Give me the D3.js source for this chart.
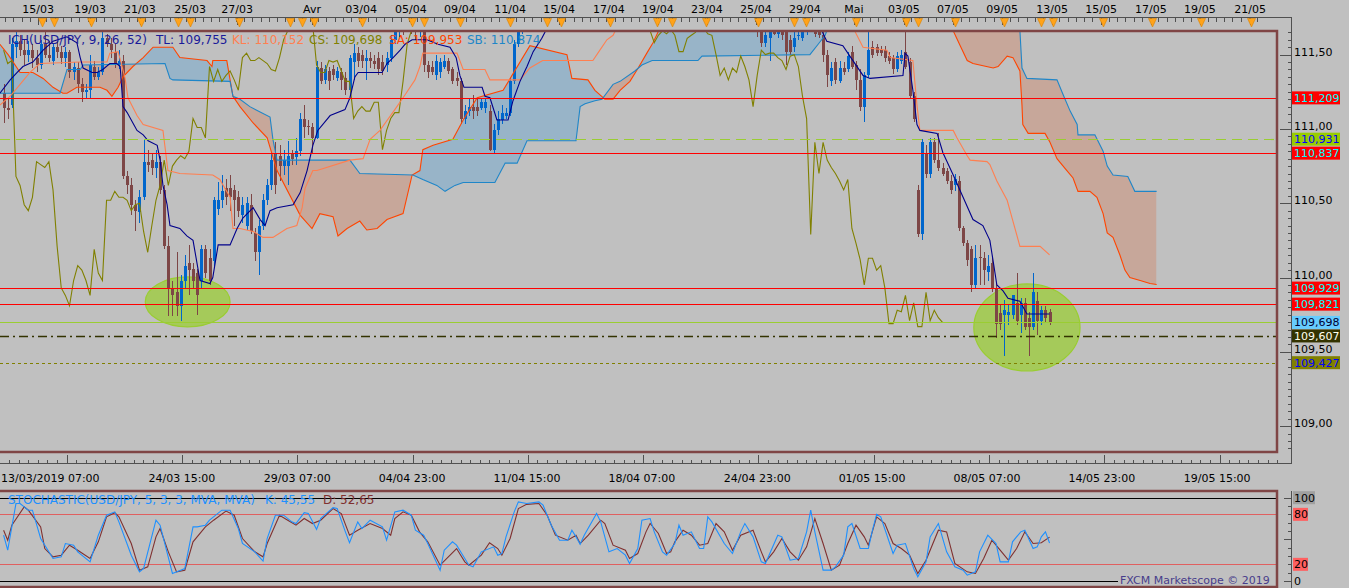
<!DOCTYPE html>
<html>
<head>
<meta charset="utf-8">
<script src="https://cdn.jsdelivr.net/npm/d3@7/dist/d3.min.js"></script>
<style>
html,body{margin:0;padding:0;background:#c0c0c0;overflow:hidden;}
svg{display:block;}
text{font-family:"DejaVu Sans",Verdana,sans-serif;font-size:11px;}
text.lg{font-size:12px;}
</style>
</head>
<body>
<svg id="chart" width="1349" height="588"></svg>
<script>
// ===================== DATA =====================
// USD/JPY 4H candles, bar index 0..254
const opens = [
111.24,111.14,111.16,111.55,111.59,111.53,111.50,111.53,111.48,111.43,
111.57,111.50,111.46,111.55,111.52,111.48,111.52,111.38,111.41,111.30,
111.25,111.26,111.42,111.35,111.38,111.61,111.57,111.52,111.44,111.46,
110.68,110.62,110.49,110.44,110.54,110.78,110.79,110.74,110.78,110.59,
110.21,109.93,109.90,109.81,109.98,110.10,110.06,110.03,109.98,110.19,
110.13,110.11,110.46,110.52,110.60,110.60,110.59,110.54,110.42,110.35,
110.49,110.30,110.17,110.35,110.52,110.62,110.84,110.82,110.75,110.75,
110.83,110.81,110.85,111.07,111.02,111.01,110.94,111.41,111.33,111.39,
111.40,111.34,111.38,111.34,111.26,111.45,111.51,111.50,111.46,111.48,
111.46,111.48,111.45,111.43,111.48,111.60,111.66,111.70,111.67,111.71,
111.68,111.67,111.70,111.43,111.42,111.36,111.38,111.42,111.46,111.40,
111.34,111.32,111.07,111.12,111.15,111.15,111.14,111.14,111.12,110.86,
110.99,111.06,111.09,111.11,111.32,111.57,111.66,111.78,111.92,111.96,
111.94,111.90,111.95,112.04,112.00,111.97,112.02,111.99,111.92,111.96,
112.01,112.05,112.02,111.93,111.97,112.04,112.08,112.05,111.99,111.96,
111.94,111.90,111.93,111.97,111.95,111.92,111.94,111.93,111.91,111.92,
111.90,111.88,111.93,111.96,111.94,111.89,111.92,111.97,112.05,112.12,
112.16,112.12,112.15,112.25,112.34,112.22,112.14,112.08,112.11,112.02,
111.97,111.90,111.86,111.80,111.66,111.58,111.61,111.67,111.64,111.67,
111.66,111.60,111.55,111.63,111.61,111.65,111.70,111.68,111.66,111.63,
111.50,111.32,111.45,111.32,111.41,111.40,111.52,111.43,111.33,111.15,
111.36,111.55,111.55,111.53,111.53,111.49,111.48,111.40,111.46,111.52,
111.45,111.22,110.59,110.29,110.84,110.70,110.91,110.79,110.74,110.72,
110.65,110.62,110.65,110.33,110.23,110.19,109.95,110.14,110.13,110.04,
110.10,109.93,109.76,109.75,109.75,109.75,109.83,109.75,109.83,109.73,
109.67,109.84,109.71,109.78,109.77];
const highs = [
111.30,111.20,111.61,111.65,111.63,111.60,111.59,111.57,111.53,111.60,
111.65,111.59,111.57,111.59,111.56,111.55,111.53,111.45,111.45,111.34,
111.30,111.50,111.46,111.42,111.65,111.64,111.61,111.57,111.53,111.50,
110.72,110.67,110.52,110.59,110.93,110.86,110.84,110.86,110.82,110.62,
110.28,109.98,110.17,110.02,110.15,110.22,110.10,110.06,110.22,110.22,
110.19,110.54,110.64,110.69,110.66,110.69,110.62,110.58,110.54,110.54,
110.56,110.33,110.39,110.56,110.66,110.83,110.91,110.89,110.86,110.92,
110.86,110.94,111.11,111.16,111.06,111.04,111.46,111.45,111.43,111.42,
111.43,111.42,111.41,111.38,111.50,111.57,111.55,111.53,111.53,111.52,
111.50,111.52,111.50,111.52,111.63,111.68,111.74,111.73,111.75,111.74,
111.72,111.76,111.74,111.46,111.46,111.50,111.48,111.50,111.48,111.42,
111.38,111.34,111.16,111.20,111.23,111.20,111.21,111.21,111.16,111.03,
111.12,111.16,111.14,111.34,111.60,111.68,111.82,111.95,112.02,112.04,
112.00,111.98,112.08,112.10,112.06,112.05,112.07,112.03,111.99,112.04,
112.08,112.10,112.06,112.00,112.07,112.12,112.14,112.09,112.03,112.02,
112.00,111.97,112.00,112.02,111.99,111.97,111.98,111.96,111.95,111.96,
111.94,111.95,111.99,112.02,111.98,111.95,112.00,112.08,112.15,112.20,
112.22,112.19,112.28,112.40,112.38,112.27,112.20,112.15,112.16,112.10,
112.05,111.98,111.92,111.84,111.73,111.65,111.70,111.72,111.72,111.72,
111.70,111.63,111.65,111.67,111.70,111.77,111.77,111.72,111.71,111.68,
111.53,111.45,111.48,111.46,111.45,111.52,111.56,111.46,111.40,111.38,
111.65,111.59,111.57,111.56,111.56,111.52,111.50,111.52,111.53,111.68,
111.48,111.25,110.62,110.93,110.89,110.94,110.94,110.97,110.77,110.74,
110.69,110.70,110.68,110.35,110.25,110.21,110.22,110.22,110.17,110.15,
110.13,109.96,109.82,109.85,109.82,109.88,110.03,109.86,109.86,109.77,
110.03,109.90,109.81,109.81,109.79];
const lows = [
111.04,111.07,111.14,111.48,111.49,111.43,111.45,111.41,111.38,111.40,
111.48,111.45,111.43,111.48,111.44,111.42,111.34,111.33,111.24,111.18,
111.21,111.20,111.33,111.33,111.36,111.55,111.48,111.41,111.40,110.66,
110.56,110.42,110.31,110.37,110.52,110.71,110.69,110.67,110.56,110.19,
109.74,109.74,109.74,109.71,109.92,109.88,109.92,109.75,109.92,110.00,
109.95,110.08,110.42,110.47,110.49,110.45,110.35,110.41,110.37,110.32,
110.29,110.11,110.02,110.32,110.49,110.59,110.56,110.65,110.69,110.62,
110.76,110.76,110.82,110.94,110.96,110.84,110.93,111.30,111.30,111.26,
111.33,111.32,111.26,111.23,111.23,111.33,111.42,111.41,111.33,111.41,
111.40,111.36,111.36,111.38,111.45,111.57,111.62,111.63,111.65,111.64,
111.60,111.62,111.38,111.34,111.36,111.33,111.34,111.40,111.37,111.30,
111.29,111.03,111.03,111.09,111.07,111.09,111.13,111.11,110.85,110.84,
110.96,111.03,111.07,111.09,111.30,111.55,111.64,111.76,111.86,111.90,
111.86,111.84,111.92,111.96,111.93,111.92,111.95,111.88,111.86,111.92,
111.96,111.98,111.90,111.88,111.94,112.00,112.01,111.95,111.92,111.90,
111.86,111.84,111.89,111.91,111.89,111.88,111.90,111.88,111.87,111.88,
111.84,111.85,111.90,111.92,111.86,111.83,111.88,111.94,112.01,112.06,
112.08,112.05,112.12,112.20,112.18,112.10,112.04,112.00,111.98,111.92,
111.85,111.80,111.74,111.62,111.55,111.55,111.46,111.63,111.61,111.60,
111.43,111.50,111.52,111.60,111.59,111.63,111.65,111.62,111.61,111.45,
111.28,111.29,111.30,111.31,111.36,111.38,111.40,111.26,111.12,111.05,
111.34,111.48,111.49,111.49,111.45,111.44,111.37,111.38,111.44,111.40,
111.20,111.05,110.27,110.25,110.67,110.67,110.77,110.72,110.68,110.63,
110.56,110.58,110.31,110.21,110.08,109.90,109.92,109.95,109.95,109.98,
109.90,109.59,109.65,109.47,109.68,109.72,109.68,109.63,109.65,109.47,
109.65,109.61,109.68,109.70,109.68];
const closes = [
111.14,111.13,111.57,111.59,111.53,111.50,111.53,111.48,111.43,111.57,
111.50,111.48,111.55,111.52,111.48,111.52,111.38,111.42,111.30,111.25,
111.26,111.43,111.35,111.38,111.61,111.57,111.53,111.44,111.46,110.68,
110.62,110.49,110.45,110.54,110.78,110.76,110.74,110.78,110.59,110.21,
109.93,109.88,109.81,109.98,110.08,110.05,109.98,109.88,110.19,110.03,
109.98,110.52,110.52,110.58,110.54,110.54,110.52,110.45,110.49,110.50,
110.31,110.17,110.35,110.52,110.62,110.79,110.62,110.75,110.79,110.82,
110.80,110.85,111.07,111.01,111.01,110.94,111.42,111.32,111.40,111.32,
111.36,111.39,111.33,111.26,111.48,111.51,111.46,111.46,111.48,111.46,
111.44,111.40,111.39,111.48,111.60,111.66,111.70,111.67,111.71,111.68,
111.67,111.72,111.43,111.38,111.38,111.46,111.45,111.46,111.39,111.32,
111.32,111.07,111.12,111.15,111.12,111.12,111.18,111.18,110.86,110.99,
111.07,111.11,111.11,111.32,111.57,111.66,111.78,111.92,111.96,111.94,
111.90,111.95,112.04,112.00,111.97,112.02,111.99,111.92,111.96,112.01,
112.05,112.02,111.93,111.97,112.04,112.08,112.05,111.99,111.96,111.94,
111.90,111.93,111.97,111.95,111.92,111.94,111.93,111.91,111.92,111.90,
111.88,111.93,111.96,111.94,111.89,111.92,111.97,112.05,112.12,112.16,
112.12,112.15,112.25,112.34,112.22,112.14,112.08,112.11,112.02,111.97,
111.90,111.86,111.80,111.66,111.58,111.63,111.66,111.64,111.67,111.63,
111.52,111.52,111.61,111.63,111.65,111.70,111.68,111.64,111.63,111.50,
111.36,111.41,111.33,111.41,111.38,111.49,111.42,111.33,111.15,111.36,
111.53,111.50,111.51,111.51,111.48,111.46,111.40,111.49,111.50,111.42,
111.22,111.07,110.29,110.91,110.70,110.91,110.79,110.74,110.70,110.65,
110.59,110.66,110.33,110.23,110.12,109.95,110.13,110.13,110.05,110.08,
109.93,109.69,109.69,109.78,109.77,109.88,109.71,109.83,109.67,109.67,
109.90,109.71,109.78,109.73,109.698];

// Ichimoku lines: [bar index, price]
const tenkanSen = [[-0.9,111.24],[1.6,111.33],[3.3,111.38],[4.7,111.42],[7.1,111.45],[9.6,111.53],[12,111.59],[15.4,111.62],[17.8,111.58],[18.6,111.48],[19.3,111.41],[21.5,111.38],[22.7,111.38],[24.1,111.40],[25.8,111.44],[27.5,111.44],[28.3,111.42],[29,111.15],[30,111.11],[31.4,111.04],[32.4,110.99],[33.9,110.96],[35.1,110.92],[37.3,110.89],[38,110.79],[38.7,110.62],[39.7,110.49],[40.4,110.35],[42.8,110.33],[44.5,110.28],[46,110.25],[47.7,109.98],[50.1,109.96],[50.8,110.00],[52.1,110.22],[55,110.22],[56.7,110.33],[58.1,110.40],[60.6,110.47],[62.3,110.39],[63.5,110.35],[64.7,110.45],[66.4,110.47],[70.3,110.49],[72,110.57],[73.7,110.72],[75.1,110.89],[76.3,110.99],[79.3,111.09],[82.9,111.13],[84.1,111.21],[85.3,111.35],[86.1,111.38],[91.9,111.38],[93.1,111.44],[94.6,111.48],[96.3,111.53],[97.5,111.57],[99.2,111.60],[102.8,111.60],[105.5,111.57],[108.4,111.55],[109.9,111.48],[110.8,111.36],[111.8,111.28],[116.2,111.28],[116.9,111.22],[118.1,111.21],[119.8,111.06],[122.5,111.06],[123.7,111.19],[125.4,111.32],[127.1,111.42],[128.6,111.52],[130.7,111.61],[132,111.68],[135.1,111.85],[144.8,112.0],[157,112.1],[169.1,112.15],[183.7,112.0],[193.4,111.8],[197.8,111.7],[198.7,111.66],[199.9,111.59],[203.8,111.56],[205.5,111.49],[208.7,111.36],[210.4,111.34],[218.4,111.36],[218.9,111.51],[219.6,111.49],[220.8,111.26],[221.8,111.03],[222.5,110.99],[226.7,110.97],[228.1,110.84],[230.6,110.69],[233,110.54],[235.4,110.39],[237.8,110.35],[239.5,110.25],[240.3,110.11],[241.2,109.95],[242.7,109.91],[243.9,109.86],[246.8,109.84],[248.5,109.755],[254,109.755]];
const kijunSen = [[-0.9,111.16],[1.6,111.22],[4.0,111.30],[6.4,111.38],[8.8,111.44],[18.6,111.45],[25.1,111.45],[25.8,111.51],[27.8,111.52],[28.5,111.45],[29.5,111.34],[30.2,111.21],[32.4,111.09],[33.9,111.03],[38.7,110.99],[39.9,110.72],[42.8,110.70],[50.8,110.69],[52.5,110.66],[55.0,110.54],[55.7,110.33],[57.4,110.33],[60.6,110.31],[63.0,110.27],[65.4,110.27],[68.8,110.33],[71.2,110.35],[72.5,110.47],[73.2,110.60],[75.1,110.72],[76.1,110.72],[84.1,110.79],[87.3,110.80],[89.0,110.93],[91.4,110.99],[95.0,111.13],[97.5,111.23],[99.9,111.33],[101.1,111.42],[101.8,111.51],[110.1,111.51],[111.6,111.40],[116.9,111.40],[118.1,111.33],[125.4,111.33],[127.8,111.41],[130.9,111.46],[143.1,111.46],[144.8,111.53],[146.5,111.60],[148.0,111.63],[148.9,111.68],[150.9,111.75],[157,111.85],[169.1,111.9],[183.7,111.95],[198.2,111.85],[205.5,111.7],[206.3,111.68],[208.7,111.55],[214.5,111.53],[215.3,111.48],[220.8,111.46],[221.8,111.16],[222.5,110.99],[230.6,110.99],[231.5,110.94],[234.0,110.82],[234.7,110.79],[238.8,110.78],[239.5,110.76],[241.2,110.65],[243.7,110.52],[245.1,110.38],[246.8,110.21],[251.7,110.21],[254,110.152]];
const senkouA = [[-0.9,111.57],[1.1,111.50],[4.0,111.38],[7.1,111.38],[9.6,111.34],[12.0,111.28],[14.4,111.24],[15.4,111.24],[17.8,111.28],[23.4,111.28],[25.1,111.26],[26.3,111.22],[27.8,111.28],[29.0,111.35],[31.4,111.42],[33.9,111.48],[36.3,111.55],[41.1,111.55],[42.8,111.48],[49.4,111.46],[50.6,111.42],[50.8,111.46],[54.2,111.46],[55.0,111.33],[55.7,111.22],[57.4,111.15],[60.6,111.04],[64.0,110.94],[66.4,110.72],[72.0,110.42],[74.9,110.33],[76.8,110.43],[80.0,110.41],[81.2,110.28],[83.4,110.33],[86.5,110.38],[88.2,110.32],[90.7,110.33],[93.1,110.39],[97.0,110.43],[99.2,110.69],[101.1,110.72],[101.8,110.86],[104.3,110.89],[109.1,110.93],[111.6,111.06],[115.0,111.21],[121.3,111.26],[127.8,111.56],[136.8,111.50],[138.0,111.34],[141.9,111.33],[143.6,111.26],[146.0,111.20],[148.0,111.20],[149.7,111.26],[152.1,111.32],[154.1,111.41],[156.2,111.51],[157.7,111.58],[159.4,111.68],[161.8,111.75],[169.1,111.9],[183.7,112.0],[200.7,112.05],[217.7,112.0],[228.6,111.8],[230.6,111.66],[232.3,111.56],[234.0,111.46],[235.4,111.44],[240.3,111.41],[241.5,111.42],[243.7,111.49],[245.1,111.48],[246.8,111.39],[247.3,111.16],[247.5,111.03],[248.8,110.97],[252.9,110.97],[254.1,110.91],[255.8,110.80],[258.2,110.72],[259.7,110.67],[260.9,110.58],[263.8,110.58],[265.5,110.54],[267.0,110.43],[268.0,110.30],[269.4,110.27],[271.1,110.15],[272.3,110.05],[273.5,110.00],[276.0,109.98],[278.4,109.96],[280,109.953]];
const senkouB = [[-0.9,111.24],[13.7,111.24],[15.4,111.40],[18.6,111.40],[19.3,111.43],[39.2,111.44],[40.4,111.34],[41.1,111.33],[55.0,111.32],[55.7,111.22],[57.4,111.20],[59.8,111.15],[64.7,111.08],[65.4,110.93],[66.4,110.79],[84.1,110.79],[86.5,110.70],[99.4,110.69],[101.8,110.66],[105.2,110.62],[107.2,110.58],[109.6,110.62],[111.6,110.64],[119.3,110.64],[121.8,110.77],[124.7,110.77],[127.1,110.92],[139.0,110.92],[140.0,111.15],[141.2,111.17],[143.6,111.19],[145.3,111.20],[148.0,111.30],[149.7,111.32],[153.3,111.39],[155.0,111.43],[157.5,111.46],[168.6,111.46],[169.6,111.49],[195.8,111.50],[197.8,111.57],[199.5,111.63],[200.2,111.68],[203.1,111.75],[210.4,111.95],[229.8,112.1],[245.6,112.1],[246.8,111.66],[247.3,111.41],[248.5,111.34],[255.8,111.33],[257.3,111.23],[259.0,111.12],[260.7,111.03],[260.9,110.96],[265.0,110.96],[267.0,110.85],[268.0,110.75],[269.4,110.69],[273.0,110.68],[274.7,110.58],[280,110.58]];
const chikouShift = 26;

// Stochastic (5,3,3): [bar index, value]
const stochK = [[0,55],[1,37],[3,93],[4,93],[6,85],[7,85],[9,51],[12,27],[14,29],[15,45],[17,43],[18,35],[21,23],[23,55],[25,79],[27,83],[28,71],[31,31],[33,11],[34,15],[37,73],[38,67],[41,9],[43,13],[44,15],[46,65],[47,65],[49,67],[50,73],[53,85],[55,85],[57,63],[58,45],[61,35],[63,24],[64,51],[66,79],[68,79],[70,71],[71,69],[73,82],[74,81],[76,62],[77,75],[80,88],[81,87],[83,59],[84,46],[86,71],[87,63],[89,73],[92,65],[93,49],[95,83],[97,85],[99,79],[100,61],[102,55],[103,45],[106,13],[107,37],[109,47],[110,43],[113,19],[114,17],[116,35],[119,41],[120,31],[121,33],[122,53],[124,83],[125,95],[127,93],[130,95],[131,91],[133,67],[135,49],[137,49],[138,61],[139,53],[140,44],[141,55],[144,81],[145,71],[147,35],[149,39],[151,31],[152,21],[154,39],[155,73],[157,75],[158,59],[160,35],[161,31],[163,45],[164,67],[165,55],[167,59],[169,39],[170,39],[171,77],[172,71],[175,45],[177,33],[179,59],[180,69],[182,53],[184,23],[185,21],[188,55],[189,53],[191,25],[193,27],[195,59],[196,85],[197,59],[199,13],[201,13],[202,17],[204,31],[205,65],[206,69],[208,39],[210,39],[211,61],[212,80],[213,77],[216,33],[217,43],[219,45],[221,15],[222,5],[224,23],[225,53],[227,69],[229,35],[231,17],[233,13],[234,7],[236,11],[237,35],[239,55],[241,45],[242,23],[244,23],[245,47],[247,59],[248,61],[250,39],[251,41],[252,53],[253,59],[254,45.55]];
const stochD = [[0,61],[1,49],[2,67],[5,89],[6,85],[9,65],[10,39],[12,29],[14,31],[16,43],[18,37],[21,27],[23,47],[25,77],[27,82],[28,77],[31,45],[33,13],[35,17],[37,53],[38,63],[40,35],[42,11],[44,13],[46,47],[49,65],[51,73],[54,84],[56,79],[58,51],[61,35],[63,29],[64,45],[67,79],[69,73],[71,67],[73,75],[75,69],[77,73],[80,87],[82,81],[84,55],[86,61],[89,69],[92,63],[94,55],[95,75],[97,83],[99,79],[101,59],[103,47],[106,19],[108,29],[110,39],[112,23],[113,19],[116,31],[118,46],[120,39],[121,31],[123,51],[125,87],[127,92],[130,93],[132,79],[134,55],[137,49],[139,55],[140,45],[142,55],[145,73],[146,69],[148,43],[151,37],[152,27],[154,33],[156,59],[157,69],[159,57],[161,33],[162,35],[163,47],[165,61],[167,55],[169,43],[171,45],[173,69],[175,59],[177,37],[179,55],[182,61],[184,35],[185,23],[187,35],[189,51],[191,35],[193,25],[195,41],[197,75],[199,45],[201,13],[203,19],[205,45],[207,67],[209,53],[210,43],[212,77],[214,69],[216,45],[218,39],[220,31],[222,9],[224,25],[227,61],[229,59],[231,21],[234,11],[236,9],[238,27],[240,49],[242,37],[244,25],[246,39],[248,59],[250,45],[252,46],[254,52.65]];
const stochLevels = [80, 20];

// Horizontal price levels
const levelValues = [111.209, 110.931, 110.837, 109.929, 109.821, 109.698, 109.607, 109.427];

// Axes
const priceTicks = [109.0, 109.5, 110.0, 110.5, 111.0, 111.5];
const stochTicks = [100, 80, 20, 0];
const topDayLabels = ["15/03","19/03","21/03","25/03","27/03","Avr","03/04","05/04","09/04","11/04","15/04","17/04","19/04","23/04","25/04","29/04","Mai","03/05","07/05","09/05","13/05","15/05","17/05","19/05","21/05"];
const topDayBars = [8.4,21.0,33.1,45.3,56.7,74.9,86.8,98.9,110.8,123.0,134.9,147.0,158.9,170.8,182.7,194.6,206.5,218.6,230.5,242.5,254.6,266.5,278.6,290.5,302.7];
const eventBars = [9.3,12.2,21.2,33.4,42.4,45.3,57.2,69.6,72.5,75.4,87.0,99.2,102.1,110.8,123.0,131.9,135.4,147.3,158.7,162.3,170.6,183.2,192.0,194.9,207.0,219.1,222.0,231.0,242.9,251.9,254.8,266.9,278.9,290.8,302.9];
const bottomLabels = ["24/03 15:00","29/03 07:00","04/04 23:00","11/04 15:00","18/04 07:00","24/04 23:00","01/05 15:00","08/05 07:00","14/05 23:00","19/05 15:00"];
const bottomLabelBars = [43.3,71.3,99.2,127.1,155.0,183.0,210.9,238.8,266.7,294.7];
const firstBarLabel = "13/03/2019 07:00";

// Highlighted zones (ellipses): centre bar, centre price, half-width in bars, half-height in price
const zoneBars = [44.7, 248.5];
const zonePrices = [109.836, 109.664];
const zoneHalfBars = [10.3, 12.9];
const zoneHalfPrices = [0.168, 0.293];

// ===================== DRAW =====================
const C = {bg:"#c0c0c0", frame:"#7f4545", axis:"#505050", up:"#0066cc", down:"#7d4646",
  tenkan:"#00008b", kijun:"#ff7f50", chikou:"#808000", sa:"#ff4500", sb:"#1f86c8",
  cloudUp:"#98b4c8", cloudDown:"#c7a79a", k:"#1e90ff", d:"#7f3030"};
const PLOT = {l:0, r:1277, t:31, b:452};
const STO = {t:491, b:587};
const AXIS_X = 1291.5;

const x = d3.scaleLinear().domain([0, 254]).range([3.6, 3.6 + 254 * 4.118]);
const y = d3.scaleLinear().domain([108.826, 111.659]).range([PLOT.b, PLOT.t]);
const ys = d3.scaleLinear().domain([0, 100]).range([581, 497.7]);
const comma = (v, d) => d3.format("." + d + "f")(v).replace(".", ",");

const svg = d3.select("#chart");
svg.append("rect").attr("width", 1349).attr("height", 588).attr("fill", C.bg);
const defs = svg.append("defs");
defs.append("clipPath").attr("id", "plotClip").append("rect")
  .attr("x", PLOT.l).attr("y", PLOT.t).attr("width", PLOT.r - PLOT.l).attr("height", PLOT.b - PLOT.t);
defs.append("clipPath").attr("id", "stoClip").append("rect")
  .attr("x", 0).attr("y", STO.t).attr("width", PLOT.r).attr("height", STO.b - STO.t);

const areaTo = (pts, edge) => d3.area().x(d => x(d[0])).y0(edge).y1(d => y(d[1]))(pts);
[["saBelow", senkouA, 3000], ["saAbove", senkouA, -3000], ["sbBelow", senkouB, 3000], ["sbAbove", senkouB, -3000]]
  .forEach(([id, pts, e]) => defs.append("clipPath").attr("id", id).append("path").attr("d", areaTo(pts, e)));

const mainG = svg.append("g").attr("clip-path", "url(#plotClip)");
const cx0 = x(-0.9), cx1 = x(280);
mainG.append("g").attr("clip-path", "url(#sbAbove)").append("rect")
  .attr("clip-path", "url(#saBelow)").attr("x", cx0).attr("y", -100).attr("width", cx1 - cx0).attr("height", 800)
  .attr("fill", C.cloudUp);
mainG.append("g").attr("clip-path", "url(#sbBelow)").append("rect")
  .attr("clip-path", "url(#saAbove)").attr("x", cx0).attr("y", -100).attr("width", cx1 - cx0).attr("height", 800)
  .attr("fill", C.cloudDown);

mainG.append("g").selectAll("ellipse").data(zoneBars).join("ellipse")
  .attr("cx", (d, i) => x(d)).attr("cy", (d, i) => y(zonePrices[i]))
  .attr("rx", (d, i) => x(d + zoneHalfBars[i]) - x(d))
  .attr("ry", (d, i) => y(zonePrices[i] - zoneHalfPrices[i]) - y(zonePrices[i]))
  .attr("fill", "#9acd32").attr("fill-opacity", 0.72).attr("stroke", "#9acd32").attr("stroke-width", 1.2);

const bars = closes.map((c, i) => ({i, o: opens[i], h: highs[i], l: lows[i], c}));
const cg = mainG.append("g").attr("shape-rendering", "crispEdges");
cg.selectAll("line").data(bars).join("line")
  .attr("x1", d => Math.round(x(d.i)) + 0.5).attr("x2", d => Math.round(x(d.i)) + 0.5)
  .attr("y1", d => y(d.h)).attr("y2", d => y(d.l))
  .attr("stroke", d => d.c >= d.o ? C.up : C.down).attr("stroke-width", 1);
cg.selectAll("rect").data(bars).join("rect")
  .attr("x", d => Math.round(x(d.i)) - 1).attr("width", 3)
  .attr("y", d => y(Math.max(d.o, d.c)))
  .attr("height", d => Math.max(1, Math.abs(y(d.o) - y(d.c))))
  .attr("fill", d => d.c >= d.o ? C.up : C.down);

const ln = d3.line().x(d => x(d[0])).y(d => y(d[1]));
const chikou = closes.slice(chikouShift).map((c, k) => [k, c]);
[[senkouA, C.sa], [senkouB, C.sb], [chikou, C.chikou], [kijunSen, C.kijun], [tenkanSen, C.tenkan]]
  .forEach(([pts, col]) => mainG.append("path").attr("d", ln(pts)).attr("fill", "none")
    .attr("stroke", col).attr("stroke-width", 1.1));

const levelStyle = [
  {c:"#ff0000", dash:null, w:1.2}, {c:"#9acd32", dash:"10,6", w:1.2}, {c:"#ff0000", dash:null, w:1.2},
  {c:"#ff0000", dash:null, w:1.2}, {c:"#ff0000", dash:null, w:1.2}, {c:"#9acd32", dash:null, w:1},
  {c:"#333300", dash:"9,4,2,4", w:1.3}, {c:"#808000", dash:"3,3", w:1.2}];
mainG.append("g").selectAll("line").data(levelValues).join("line")
  .attr("x1", 0).attr("x2", PLOT.r).attr("y1", d => Math.round(y(d)) + 0.5).attr("y2", d => Math.round(y(d)) + 0.5)
  .attr("stroke", (d, i) => levelStyle[i].c).attr("stroke-width", (d, i) => levelStyle[i].w)
  .attr("stroke-dasharray", (d, i) => levelStyle[i].dash);

const legend = [["ICH(USD/JPY, 9, 26, 52)", 8, "#1a1a99"], ["TL: 109,755", 156, "#1a1a99"], ["KL: 110,152", 232, C.kijun],
  ["CS: 109,698", 309, C.chikou], ["SA: 109,953", 389, C.sa], ["SB: 110,874", 467, C.sb]];
svg.append("g").selectAll("text").data(legend).join("text").attr("class", "lg")
  .attr("x", d => d[1]).attr("y", 44).attr("fill", d => d[2]).text(d => d[0]);

svg.append("rect").attr("x", -3).attr("y", PLOT.t).attr("width", PLOT.r + 3).attr("height", PLOT.b - PLOT.t)
  .attr("fill", "none").attr("stroke", C.frame).attr("stroke-width", 2.5);

// ---------- top time ruler ----------
const topY = 17.5;
const topAxisG = svg.append("g").attr("shape-rendering", "crispEdges");
topAxisG.append("line").attr("x1", 0).attr("x2", AXIS_X).attr("y1", topY).attr("y2", topY).attr("stroke", C.axis);
topAxisG.selectAll(".mt").data(d3.range(0.4, 306, 2)).join("line").attr("class", "mt")
  .attr("x1", d => Math.round(x(d)) + 0.5).attr("x2", d => Math.round(x(d)) + 0.5)
  .attr("y1", topY).attr("y2", topY + 4).attr("stroke", C.axis);
topAxisG.selectAll(".dt").data(topDayBars).join("line").attr("class", "dt")
  .attr("x1", d => Math.round(x(d)) + 0.5).attr("x2", d => Math.round(x(d)) + 0.5)
  .attr("y1", topY).attr("y2", topY + 7).attr("stroke", C.axis);
svg.append("g").selectAll("path").data(eventBars).join("path")
  .attr("d", d => { const px = Math.round(x(d)) + 0.5; return `M${px - 4},18.5L${px + 4},18.5L${px},27Z`; })
  .attr("fill", "#ffa31a").attr("stroke", "#d98200").attr("stroke-width", 0.6);
svg.append("g").selectAll("text").data(topDayLabels).join("text")
  .attr("x", (d, i) => x(topDayBars[i])).attr("y", 13).attr("text-anchor", "middle").attr("fill", "#000").text(d => d);

// ---------- right price axis ----------
const ra = svg.append("g").attr("shape-rendering", "crispEdges");
ra.append("line").attr("x1", AXIS_X).attr("x2", AXIS_X).attr("y1", topY).attr("y2", 463.5).attr("stroke", C.axis);
const minorP = d3.range(108.85, 111.66, 0.05);
ra.selectAll(".pm").data(minorP).join("line").attr("class", "pm")
  .attr("x1", AXIS_X - 4).attr("x2", AXIS_X).attr("y1", d => Math.round(y(d)) + 0.5).attr("y2", d => Math.round(y(d)) + 0.5)
  .attr("stroke", C.axis);
ra.selectAll(".pM").data(priceTicks).join("line").attr("class", "pM")
  .attr("x1", AXIS_X - 12).attr("x2", AXIS_X).attr("y1", d => Math.round(y(d)) + 0.5).attr("y2", d => Math.round(y(d)) + 0.5)
  .attr("stroke", C.axis);
svg.append("g").selectAll("text").data(priceTicks).join("text")
  .attr("x", 1294).attr("y", d => y(d) + 1).attr("fill", "#000").text(d => comma(d, 2));

const boxStyle = [["#ff0000", "#00ffff"], ["#99cc00", "#0000ff"], ["#ff0000", "#00ffff"], ["#ff0000", "#00ffff"],
  ["#ff0000", "#00ffff"], ["#66ccff", "#000033"], ["#333300", "#ffffee"], ["#808000", "#0000ff"]];
const bx = svg.append("g");
bx.selectAll("rect").data(levelValues).join("rect")
  .attr("x", 1292).attr("y", d => y(d) - 6.5).attr("width", 48).attr("height", 13)
  .attr("fill", (d, i) => boxStyle[i][0]);
bx.selectAll("text").data(levelValues).join("text")
  .attr("x", 1294).attr("y", d => y(d) + 4).attr("fill", (d, i) => boxStyle[i][1]).text(d => comma(d, 3));

// ---------- bottom time axis ----------
const botY = 463.5;
const ba = svg.append("g").attr("shape-rendering", "crispEdges");
ba.append("line").attr("x1", 0).attr("x2", AXIS_X).attr("y1", botY).attr("y2", botY).attr("stroke", C.axis);
const majorB = d3.range(15.3, 310, 28);
const minorB = d3.range(15.3 - 28, 310, 28 / 12);
ba.selectAll(".bm").data(minorB).join("line").attr("class", "bm")
  .attr("x1", d => Math.round(x(d)) + 0.5).attr("x2", d => Math.round(x(d)) + 0.5)
  .attr("y1", botY - 4).attr("y2", botY).attr("stroke", C.axis);
ba.selectAll(".bM").data(majorB).join("line").attr("class", "bM")
  .attr("x1", d => Math.round(x(d)) + 0.5).attr("x2", d => Math.round(x(d)) + 0.5)
  .attr("y1", botY - 9).attr("y2", botY).attr("stroke", C.axis);
svg.append("g").selectAll("text").data(bottomLabels).join("text")
  .attr("x", (d, i) => x(bottomLabelBars[i])).attr("y", 482).attr("text-anchor", "middle").attr("fill", "#000").text(d => d);
svg.append("text").attr("x", 1).attr("y", 482).attr("fill", "#000").text(firstBarLabel);

// ---------- stochastic panel ----------
const st = svg.append("g").attr("clip-path", "url(#stoClip)");
st.append("g").attr("shape-rendering", "crispEdges").selectAll("line").data([100, 0]).join("line")
  .attr("x1", 0).attr("x2", PLOT.r).attr("y1", d => Math.round(ys(d)) + 0.5).attr("y2", d => Math.round(ys(d)) + 0.5)
  .attr("stroke", "#000");
st.append("g").attr("shape-rendering", "crispEdges").selectAll("line").data(stochLevels).join("line")
  .attr("x1", 0).attr("x2", PLOT.r).attr("y1", d => Math.round(ys(d)) + 0.5).attr("y2", d => Math.round(ys(d)) + 0.5)
  .attr("stroke", "#e06060");
const sl = d3.line().x(d => x(d[0])).y(d => ys(d[1]));
st.append("path").attr("d", sl(stochD)).attr("fill", "none").attr("stroke", C.d).attr("stroke-width", 1.1);
st.append("path").attr("d", sl(stochK)).attr("fill", "none").attr("stroke", C.k).attr("stroke-width", 1.1);
svg.append("text").attr("class", "lg").attr("x", 8).attr("y", 504).attr("fill", C.k).text("STOCHASTIC(USD/JPY, 5, 3, 3, MVA, MVA)");
svg.append("text").attr("class", "lg").attr("x", 265).attr("y", 504).attr("fill", C.k).text("K: 45,55");
svg.append("text").attr("class", "lg").attr("x", 323).attr("y", 504).attr("fill", C.d).text("D: 52,65");
svg.append("rect").attr("x", 1118).attr("y", 574).attr("width", 158).attr("height", 12).attr("fill", C.bg);
svg.append("text").attr("x", 1120).attr("y", 583.5).attr("fill", "#483d8b").text("FXCM Marketscope \u00a9 2019");
svg.append("rect").attr("x", -3).attr("y", STO.t).attr("width", PLOT.r + 3).attr("height", STO.b - STO.t)
  .attr("fill", "none").attr("stroke", C.frame).attr("stroke-width", 2.5);
const stAxis = svg.append("g").attr("shape-rendering", "crispEdges");
stAxis.append("line").attr("x1", AXIS_X).attr("x2", AXIS_X).attr("y1", STO.t).attr("y2", 588).attr("stroke", C.axis);
stAxis.selectAll("line.t").data(d3.range(0, 101, 10)).join("line").attr("class", "t")
  .attr("x1", d => AXIS_X - (d % 50 === 0 ? 8 : 4)).attr("x2", AXIS_X)
  .attr("y1", d => Math.round(ys(d)) + 0.5).attr("y2", d => Math.round(ys(d)) + 0.5).attr("stroke", C.axis);
const stBg = {100: "#a0a0a0", 80: "#ff6060", 20: "#ff6060"};
svg.append("g").selectAll("rect").data(stochTicks.filter(v => stBg[v])).join("rect")
  .attr("x", 1293).attr("y", d => ys(d) - 6.5).attr("width", d => d === 100 ? 22 : 15).attr("height", 13)
  .attr("fill", d => stBg[d]);
svg.append("g").selectAll("text").data(stochTicks).join("text")
  .attr("x", 1294).attr("y", d => ys(d) + 4).attr("fill", "#000").text(d => d);
</script>
</body>
</html>
